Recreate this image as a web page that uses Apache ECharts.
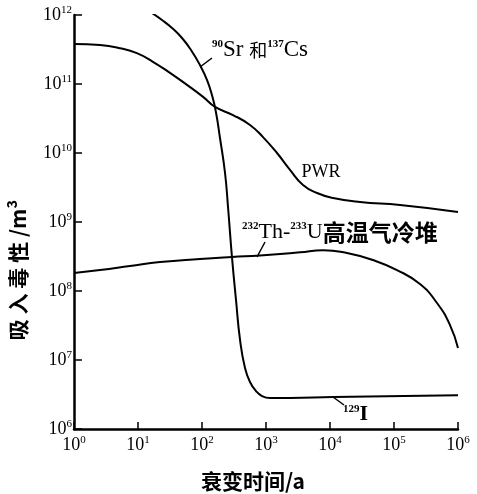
<!DOCTYPE html>
<html><head><meta charset="utf-8">
<script src="https://cdn.jsdelivr.net/npm/echarts@6/dist/echarts.min.js"></script>
<style>html,body{margin:0;padding:0;background:#fff}#c{width:477px;height:494px}</style>
</head><body><div id="c"></div>
<script>
// tick label exponents (10^n), from the lowest tick upward
const xTickExp = ['0','1','2','3','4','5','6'];
const yTickExp = ['6','7','8','9','10','11','12'];

// PWR curve: decay time (a) vs inhalation toxicity (m^3)
const pwrYears = [1, 2.55, 5.23, 9.6, 17.1, 31.6, 58.3, 104, 160, 305, 562, 898, 1486, 2371, 3786, 6266, 11140, 29440, 124000, 1000000];
const pwrTox   = [3.8e11, 3.67e11, 3.3e11, 2.8e11, 2.1e11, 1.45e11, 9.7e10, 6.5e10, 4.65e10, 3.55e10, 2.55e10, 1.7e10, 1.0e10, 5.7e9, 3.44e9, 2.63e9, 2.23e9, 1.95e9, 1.76e9, 1.40e9];

// 90Sr + 137Cs, then 129I tail
const srYears = [16.5, 23.7, 34.0, 48.7, 67.3, 93, 120, 143, 165, 191, 229, 255, 294, 340, 393, 470, 562, 698, 866, 1155, 2371, 11140, 1000000];
const srTox   = [1.07e12, 8.47e11, 6.49e11, 4.64e11, 3.11e11, 1.88e11, 1.14e11, 6.93e10, 3.93e10, 1.65e10, 5.13e9, 1.65e9, 3.1e8, 7.4e7, 1.95e7, 7.66e6, 4.8e6, 3.55e6, 3.0e6, 2.81e6, 2.81e6, 2.91e6, 3.09e6];

// 232Th-233U HTGR
const thYears = [1, 2.55, 7.5, 22.1, 93, 294, 806, 1656, 3400, 7780, 18450, 46980, 111400, 254700, 469700, 750000, 1000000];
const thTox   = [1.82e8, 2.01e8, 2.3e8, 2.63e8, 2.91e8, 3.11e8, 3.27e8, 3.44e8, 3.64e8, 3.9e8, 3.55e8, 2.81e8, 2.01e8, 1.26e8, 6.7e7, 3.21e7, 1.49e7];

const zip = (a, b) => a.map((v, i) => [v, b[i]]);
const expIndex = (v, lo) => Math.round(Math.log10(v)) - lo;

const serif = 'Liberation Serif';
const cjk = 'Noto Sans CJK SC';
const supRich = {
  b: { fontFamily: serif, fontSize: 18, lineHeight: 20, color: '#000' },
  s: { fontFamily: serif, fontSize: 11, lineHeight: 11, verticalAlign: 'top', color: '#000' }
};

const chart = echarts.init(document.getElementById('c'), null, { renderer: 'canvas' });
const lineStyle = { color: '#000', width: 2 };
const mkSeries = (name, data) => ({
  name, type: 'line', data, showSymbol: false, symbol: 'none',
  smooth: 0.5, lineStyle, silent: true, clip: true
});

chart.setOption({
  animation: false,
  backgroundColor: '#fff',
  grid: { left: 74, right: 19, top: 15, bottom: 65 },
  xAxis: {
    type: 'log', logBase: 10, min: 1, max: 1e6, splitNumber: 6,
    axisLine: { lineStyle: { color: '#000', width: 2.5 } },
    axisTick: { inside: true, length: 7, lineStyle: { color: '#000', width: 1.5 } },
    minorTick: { show: false },
    splitLine: { show: false },
    axisLabel: {
      margin: 6, color: '#000',
      formatter: v => '{b|10}{s|' + xTickExp[expIndex(v, 0)] + '}',
      rich: supRich
    }
  },
  yAxis: {
    type: 'log', logBase: 10, min: 1e6, max: 1e12, splitNumber: 6,
    axisLine: { lineStyle: { color: '#000', width: 2.5 } },
    axisTick: { inside: true, length: 8, lineStyle: { color: '#000', width: 1.5 } },
    splitLine: { show: false },
    axisLabel: {
      margin: 2, color: '#000',
      formatter: v => '{b|10}{s|' + yTickExp[expIndex(v, 6)] + '}',
      rich: supRich
    }
  },
  series: [
    mkSeries('PWR', zip(pwrYears, pwrTox)),
    mkSeries('90Sr和137Cs', zip(srYears, srTox)),
    mkSeries('232Th-233U高温气冷堆', zip(thYears, thTox))
  ],
  graphic: [
    { type: 'text', x: 18, y: 270, rotation: Math.PI / 2,
      style: { text: '吸 入 毒 性 /m³', fill: '#000', font: 'bold 21px "Noto Sans CJK SC"', textAlign: 'center', textVerticalAlign: 'middle' } },
    { type: 'text', x: 253, y: 481,
      style: { text: '衰变时间/a', fill: '#000', font: 'bold 21px "Noto Sans CJK SC"', textAlign: 'center', textVerticalAlign: 'middle' } },
    { type: 'text', x: 212, y: 50,
      style: { text: '{s|90}{b|Sr }{c|和}{s|137}{b|Cs}', textAlign: 'left', textVerticalAlign: 'middle',
        rich: {
          b: { fontFamily: serif, fontSize: 23, lineHeight: 22, fill: '#000' },
          c: { fontFamily: cjk, fontSize: 18, lineHeight: 22, fill: '#000' },
          s: { fontFamily: serif, fontSize: 11, lineHeight: 11, verticalAlign: 'top', fill: '#000', fontWeight: 'bold' }
        } } },
    { type: 'text', x: 321, y: 172,
      style: { text: 'PWR', fill: '#000', font: '18px "Liberation Serif"', textAlign: 'center', textVerticalAlign: 'middle' } },
    { type: 'text', x: 242, y: 232,
      style: { text: '{s|232}{b|Th-}{s|233}{b|U}{c|高温气冷堆}', textAlign: 'left', textVerticalAlign: 'middle',
        rich: {
          b: { fontFamily: serif, fontSize: 22, lineHeight: 22, fill: '#000' },
          c: { fontFamily: cjk, fontSize: 23, lineHeight: 23, fill: '#000', fontWeight: 'bold' },
          s: { fontFamily: serif, fontSize: 11, lineHeight: 11, verticalAlign: 'top', fill: '#000', fontWeight: 'bold' }
        } } },
    { type: 'text', x: 343, y: 414,
      style: { text: '{s|129}{b|I}', textAlign: 'left', textVerticalAlign: 'middle',
        rich: {
          b: { fontFamily: serif, fontSize: 22, lineHeight: 20, fill: '#000', fontWeight: 'bold' },
          s: { fontFamily: serif, fontSize: 11, lineHeight: 11, verticalAlign: 'top', fill: '#000', fontWeight: 'bold' }
        } } },
    { type: 'line', shape: { x1: 200, y1: 67, x2: 212, y2: 58 }, style: { stroke: '#000', lineWidth: 1.5 } },
    { type: 'line', shape: { x1: 257, y1: 257, x2: 265, y2: 242 }, style: { stroke: '#000', lineWidth: 1.5 } },
    { type: 'line', shape: { x1: 333, y1: 397, x2: 344, y2: 405 }, style: { stroke: '#000', lineWidth: 1.5 } }
  ]
});
</script></body></html>
